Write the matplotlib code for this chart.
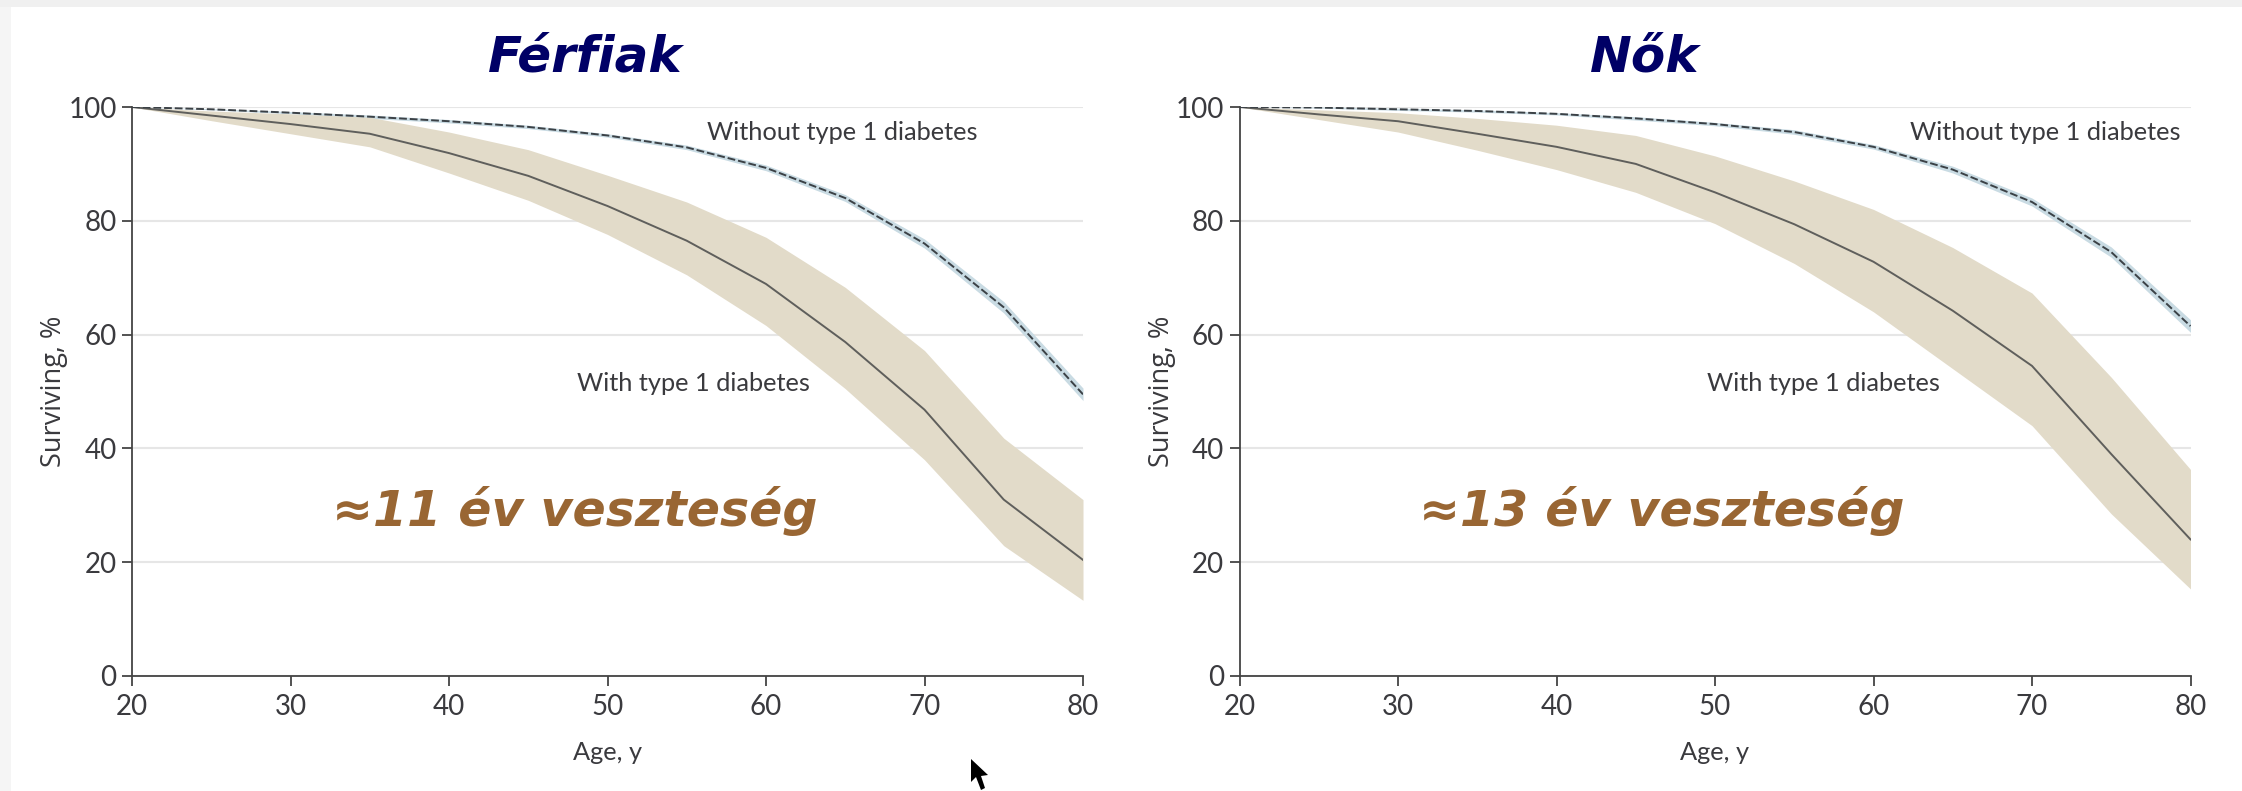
import numpy as np
import matplotlib.pyplot as plt
from matplotlib.patches import Rectangle, Polygon

age = [20, 25, 30, 35, 40, 45, 50, 55, 60, 65, 70, 75, 80]

# Men
men_with = [100, 98.5, 97, 95.3, 91.9, 87.9, 82.6, 76.5, 68.9, 58.7, 46.8, 31, 20.4]
men_with_hi = [100, 99.3, 98.8, 98.2, 95.6, 92.5, 88, 83.3, 77.1, 68.3, 57.2, 41.8, 31]
men_with_lo = [100, 97.6, 95.3, 93, 88.4, 83.6, 77.6, 70.5, 61.6, 50.5, 38, 22.9, 13.3]
men_without = [100, 99.6, 99, 98.3, 97.5, 96.5, 95, 92.9, 89.3, 84, 76, 64.8, 49.5]
men_without_hi = [100, 99.7, 99.2, 98.6, 97.8, 96.8, 95.3, 93.3, 89.8, 84.6, 76.8, 65.8, 50.6]
men_without_lo = [100, 99.5, 98.8, 98, 97.2, 96.2, 94.7, 92.5, 88.8, 83.4, 75.2, 63.8, 48.4]

# Women
women_with = [100, 98.7, 97.5, 95.3, 93, 90, 85, 79.4, 72.8, 64.2, 54.5, 39, 24]
women_with_hi = [100, 99.5, 99, 98, 96.8, 95, 91.4, 87, 82, 75.3, 67.3, 52.5, 36.3]
women_with_lo = [100, 97.8, 95.6, 92.4, 89, 85, 79.5, 72.5, 64, 54, 44, 28.5, 15.3]
women_without = [100, 99.9, 99.6, 99.3, 98.8, 98, 97, 95.6, 93, 89, 83.3, 74.5, 61.5]
women_without_hi = [100, 100, 99.8, 99.5, 99, 98.3, 97.3, 96, 93.4, 89.6, 84, 75.4, 62.6]
women_without_lo = [100, 99.8, 99.4, 99.1, 98.6, 97.7, 96.7, 95.2, 92.6, 88.4, 82.6, 73.6, 60.4]

x_ticks = [20, 30, 40, 50, 60, 70, 80]
y_ticks = [0, 20, 40, 60, 80, 100]

W, H = 2242, 791
narrow = 'Lato'
dark = '#3a3a3e'

fig = plt.figure(figsize=(W / 100, H / 100), dpi=100)
fig.patches.append(Rectangle((0, 0), 11 / W, 1, transform=fig.transFigure, color='#f5f5f5', lw=0))
fig.patches.append(Rectangle((0, 1 - 7 / H), 1, 7 / H, transform=fig.transFigure, color='#f0f0f0', lw=0))


def draw_panel(left, with_mid, with_hi, with_lo, without, without_hi, without_lo,
               title, title_x, loss, loss_x, without_x, with_x):
    ax = fig.add_axes([left / W, 1 - 676 / H, 951 / W, 569 / H])
    ax.fill_between(age, without_lo, without_hi, color='#c9dbe3', lw=0, zorder=2)
    ax.fill_between(age, with_lo, with_hi, color='#e2dbc9', lw=0, zorder=3)
    ax.plot(age, with_mid, color='#5f5f5c', lw=1.4, zorder=4)
    ax.plot(age, without, color='#3b4146', lw=1.4, ls=(0, (4, 1.5)), zorder=4)

    ax.set_xlim(20, 80)
    ax.set_ylim(0, 100)
    ax.set_xticks(x_ticks)
    ax.set_yticks(y_ticks)
    ax.grid(axis='y', color='#e6e6e6', lw=1.5, zorder=1)
    ax.set_axisbelow(True)
    for s in ['top', 'right']:
        ax.spines[s].set_visible(False)
    for s in ['left', 'bottom']:
        ax.spines[s].set_color('#444444')
        ax.spines[s].set_linewidth(1.3)
    ax.tick_params(length=7, width=1.3, color='#444444', labelcolor=dark, pad=4)
    ax.tick_params(axis='x', pad=6)
    for lab in ax.get_xticklabels() + ax.get_yticklabels():
        lab.set_family(narrow)
        lab.set_fontsize(20)

    ax.set_xlabel('Age, y', family=narrow, fontsize=18.3, color=dark, va='center')
    ax.xaxis.set_label_coords(0.5, -0.1336)
    ax.set_ylabel('Surviving, %', family='Open Sans', fontsize=19.5, color=dark, va='center')
    ax.yaxis.set_label_coords(-0.082, 0.5)

    ax.text(without_x, 95.6, 'Without type 1 diabetes', family=narrow, fontsize=18.3, color=dark, va='center')
    ax.text(with_x, 51.4, 'With type 1 diabetes', family=narrow, fontsize=18.3, color=dark, va='center')
    ax.text(loss_x, 29.0, loss, family='DejaVu Sans', weight='bold', style='italic',
            fontsize=35.3, color='#996633', va='center')
    fig.text(title_x / W, 1 - 57 / H, title, family='DejaVu Sans', weight='bold', style='italic',
             fontsize=36, color='#000066', ha='center', va='center')


draw_panel(132, men_with, men_with_hi, men_with_lo, men_without, men_without_hi, men_without_lo,
           'Férfiak', 585, '≈11 év veszteség', 32.6, 56.3, 48.1)
draw_panel(1239.5, women_with, women_with_hi, women_with_lo, women_without, women_without_hi, women_without_lo,
           'Nők', 1645, '≈13 év veszteség', 31.3, 62.3, 49.5)

# mouse pointer left in the screenshot
cursor_px = np.array([[971, 759], [971, 782], [976, 777], [981, 790], [985, 788], [981, 776], [988, 775]])
fig.patches.append(Polygon(cursor_px / [W, H] * [1, -1] + [0, 1], transform=fig.transFigure,
                           color='black', lw=0))

fig.savefig('out.png', dpi=100)
